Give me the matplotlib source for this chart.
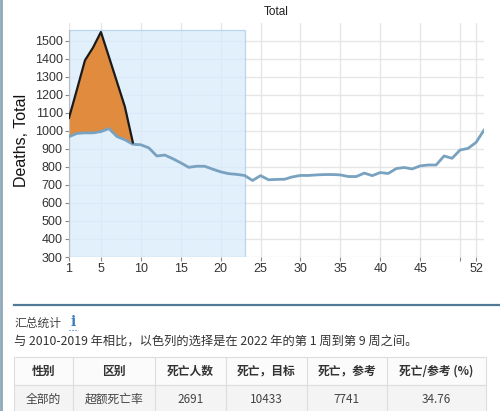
import numpy as np
import matplotlib.pyplot as plt
from matplotlib.patches import Rectangle

# 周数
weeks = list(range(1, 54))

# 参考死亡数 (2010-2019)
reference = [967, 985, 988, 988, 995, 1012, 968, 950, 925, 922,
             905, 860, 865, 845, 822, 797, 803, 803, 787, 772,
             762, 758, 752, 724, 751, 728, 730, 731, 744, 752,
             752, 755, 757, 757, 755, 746, 746, 765, 751, 768,
             763, 790, 796, 788, 805, 810, 810, 860, 847, 893,
             902, 935, 1003]

# 2022 年第 1-9 周实际死亡数
sel_weeks = list(range(1, 10))
actual = [1071, 1229, 1390, 1460, 1547, 1410, 1272, 1133, 935]

# 选择区间 (周)
sel_start, sel_end = 1, 23

x_ticks = [1, 5, 10, 15, 20, 25, 30, 35, 40, 45, 50, 52]
x_tick_labels = ["1", "5", "10", "15", "20", "25", "30", "35", "40", "45", "", "52"]
y_ticks = list(range(300, 1501, 100))

# 汇总表
headers = ["性别", "区别", "死亡人数", "死亡，目标", "死亡，参考", "死亡/参考 (%)"]
row = ["全部的", "超额死亡率", "2691", "10433", "7741", "34.76"]
col_edges = [14, 73, 155, 226, 307, 387, 486]

W, H = 500, 411
fig = plt.figure(figsize=(W / 100, H / 100), dpi=100)
latin = ['Liberation Sans', 'DejaVu Sans']
cjk = ['Noto Sans CJK SC', 'DejaVu Sans']

# 主图
ax = fig.add_axes([69 / W, 1 - 257 / H, (484 - 69) / W, (257 - 23) / H])
ax.set_xlim(1, 53)
ax.set_ylim(300, 1597)

ax.add_patch(Rectangle((sel_start, 300), sel_end - sel_start, 1258,
                       facecolor='#d9ebfc', edgecolor='#a8cae8', lw=0.9,
                       alpha=0.75, zorder=1))

ref_sel = reference[:len(sel_weeks)]
ax.fill_between(sel_weeks, ref_sel, actual, color='#e08b3e', lw=0, zorder=2)
ax.plot(weeks, reference, color='#78a2bf', lw=2, zorder=3)
ax.plot(sel_weeks, actual, color='#1a1a1a', lw=1.6, zorder=4)

ax.set_xticks(x_ticks)
ax.set_xticklabels(x_tick_labels)
ax.set_yticks(y_ticks)
ax.grid(True, color='#e6e6e6', lw=1, zorder=0)
ax.set_axisbelow(True)
for s in ['top', 'right', 'bottom']:
    ax.spines[s].set_visible(False)
ax.spines['left'].set_color('#bbbbbb')
ax.spines['left'].set_bounds(300, 1558)
ax.tick_params(axis='both', length=3, color='#888888', labelsize=9,
               labelcolor='#333333', pad=1.5)
for lab in ax.get_xticklabels() + ax.get_yticklabels():
    lab.set_family(latin)
ax.set_ylabel("Deaths, Total", fontsize=11.5, family=latin, color='#111111',
              labelpad=4)

fig.text(276 / W, 1 - 12 / H, "Total", ha='center', va='center',
         fontsize=8.5, family=latin, color='#222222')

# 下方区域 (像素坐标)
bx = fig.add_axes([0, 0, 1, 1])
bx.set_xlim(0, W)
bx.set_ylim(H, 0)
bx.axis('off')
bx.patch.set_alpha(0)

bx.plot([1, 1], [0, H], color='#8fa8b8', lw=2)
bx.plot([14, W], [305, 305], color='#4f7b94', lw=1.6)

bx.text(14, 323, "汇总统计", fontsize=8.5, family=cjk, color='#444444',
        va='center', ha='left')
bx.text(73, 322, "i", fontsize=10, family=['DejaVu Serif'], color='#3b7cc0',
        fontweight='bold', va='center', ha='center')
bx.plot([69, 78], [330, 330], color='#3b7cc0', lw=0.8, ls=':')
bx.text(14, 341, "与 2010-2019 年相比，以色列的选择是在 2022 年的第 1 周到第 9 周之间。",
        fontsize=8.8, family=cjk, color='#333333', va='center', ha='left')

# 表格
bx.add_patch(Rectangle((14, 357), 472, 28, facecolor='#fbfbfb',
                       edgecolor='#dddddd', lw=0.8))
bx.add_patch(Rectangle((14, 385), 472, 28, facecolor='#f4f4f4',
                       edgecolor='#dddddd', lw=0.8))
for xe in col_edges[1:-1]:
    bx.plot([xe, xe], [357, 413], color='#dddddd', lw=0.8)
for i in range(len(headers)):
    cx = (col_edges[i] + col_edges[i + 1]) / 2
    bx.text(cx, 371, headers[i], fontsize=8.5, family=cjk, fontweight='bold',
            color='#333333', ha='center', va='center')
    bx.text(cx, 399, row[i], fontsize=8.5, family=cjk, color='#444444',
            ha='center', va='center')

fig.savefig("out.png", dpi=100)
